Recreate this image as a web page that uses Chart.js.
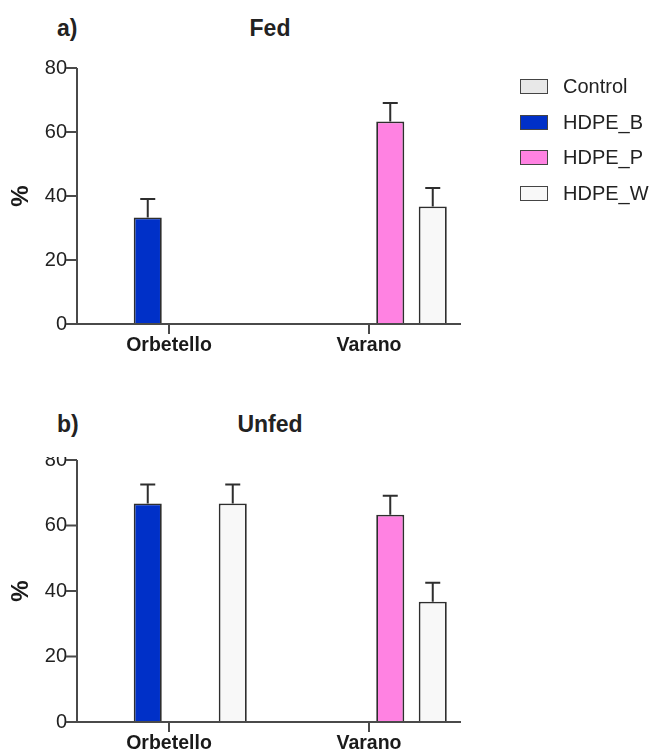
<!DOCTYPE html>
<html>
<head>
<meta charset="utf-8">
<script src="https://cdn.jsdelivr.net/npm/chart.js@4.4.1/dist/chart.umd.min.js"></script>
<style>
  body { margin: 0; background: #fff; }
  #page { position: relative; width: 656px; height: 753px; overflow: hidden; font-family: 'Liberation Sans', Arial, sans-serif; color: #222; }
  .panel-letter, .panel-title { position: absolute; font-weight: bold; font-size: 23px; line-height: 23px; }
  .panel-title { left: 0; width: 540px; text-align: center; }
  #fed-wrap { position: absolute; left: 0; top: 0; }
  #unfed-wrap { position: absolute; left: 0; top: 457px; width: 540px; height: 296px; overflow: hidden; }
  #unfed-wrap canvas { position: absolute; left: 0; top: -59px; }
  #legend { position: absolute; left: 520px; top: 69px; }
  .legend-item { display: flex; align-items: center; height: 35.5px; font-size: 20px; }
  .legend-box { box-sizing: border-box; width: 28px; height: 15px; border: 1.5px solid #444; margin-right: 15px; }
</style>
</head>
<body>
<div id="page">
  <div class="panel-letter" style="left:57px; top:17px">a)</div>
  <div class="panel-title" style="top:17px">Fed</div>
  <div id="fed-wrap"><canvas id="fed-chart" width="540" height="370"></canvas></div>

  <div class="panel-letter" style="left:57px; top:413px">b)</div>
  <div class="panel-title" style="top:413px">Unfed</div>
  <div id="unfed-wrap"><canvas id="unfed-chart" width="540" height="355"></canvas></div>

  <div id="legend"></div>
</div>
<script>
const sites = ['Orbetello', 'Varano'];
const series = ['Control', 'HDPE_B', 'HDPE_P', 'HDPE_W'];
const seriesColors = ['#e8e8e8', '#0030c8', '#ff82e2', '#f8f8f8'];
const yTicks = [0, 20, 40, 60, 80];

// Fed (panel a)
const fedMeans = {
  Control: [null, null],
  HDPE_B: [33.3, null],
  HDPE_P: [null, 63.3],
  HDPE_W: [null, 36.7]
};
const fedErrors = {
  Control: [null, null],
  HDPE_B: [5.8, null],
  HDPE_P: [null, 5.8],
  HDPE_W: [null, 5.8]
};

// Unfed (panel b)
const unfedMeans = {
  Control: [null, null],
  HDPE_B: [66.7, null],
  HDPE_P: [null, 63.3],
  HDPE_W: [66.7, 36.7]
};
const unfedErrors = {
  Control: [null, null],
  HDPE_B: [5.8, null],
  HDPE_P: [null, 5.8],
  HDPE_W: [5.8, 5.8]
};

const FONT = "'Liberation Sans', Arial, sans-serif";
const AXIS_COLOR = '#4a4a4a';
const BAR_EDGE = '#2e2e2e';

Chart.defaults.font.family = FONT;
Chart.defaults.color = '#222';

// ─── axes offset from the plot area + error bars ───
const prismAxes = {
  id: 'prismAxes',
  afterDatasetsDraw(chart, args, opts) {
    const { ctx, chartArea, scales: { x, y } } = chart;
    ctx.save();

    // error bars (upper only)
    ctx.strokeStyle = BAR_EDGE;
    ctx.lineWidth = 2;
    chart.data.datasets.forEach((ds, i) => {
      const meta = chart.getDatasetMeta(i);
      meta.data.forEach((bar, j) => {
        const v = ds.data[j], e = ds.errors[j];
        if (v == null || !e) return;
        const top = y.getPixelForValue(v + e);
        const base = y.getPixelForValue(v);
        ctx.beginPath();
        ctx.moveTo(bar.x, base);
        ctx.lineTo(bar.x, top);
        ctx.moveTo(bar.x - 7.5, top);
        ctx.lineTo(bar.x + 7.5, top);
        ctx.stroke();
      });
    });

    // axis lines and tick marks
    const x0 = chartArea.left + opts.inset;
    const x1 = chartArea.right - opts.inset;
    const y0 = y.getPixelForValue(0);
    const yTop = y.getPixelForValue(yTicks[yTicks.length - 1]);
    ctx.strokeStyle = AXIS_COLOR;
    ctx.lineWidth = 2;
    ctx.beginPath();
    ctx.moveTo(x0, yTop);
    ctx.lineTo(x0, y0);
    ctx.lineTo(x1, y0);
    yTicks.forEach(t => {
      const py = y.getPixelForValue(t);
      ctx.moveTo(x0 - 11, py);
      ctx.lineTo(x0, py);
    });
    x.ticks.forEach((t, i) => {
      const px = x.getPixelForTick(i);
      ctx.moveTo(px, y0);
      ctx.lineTo(px, y0 + 10);
    });
    ctx.stroke();
    ctx.restore();
  }
};

function makeChart(canvasId, means, errors, pad) {
  const datasets = series.map((name, k) => ({
    label: name,
    data: means[name],
    errors: errors[name],
    backgroundColor: seriesColors[k],
    borderColor: BAR_EDGE,
    borderWidth: 1.8,
    categoryPercentage: 0.85,
    barPercentage: 0.66
  }));

  return new Chart(document.getElementById(canvasId), {
    type: 'bar',
    data: { labels: sites, datasets },
    plugins: [prismAxes],
    options: {
      responsive: false,
      animation: false,
      layout: { padding: { top: pad.top, right: 71, left: 0, bottom: 0 } },
      scales: {
        x: {
          grid: { display: false, drawTicks: false },
          border: { display: false },
          ticks: { padding: 10, font: { size: 19.5, weight: 'bold' }, color: '#1a1a1a' },
          afterFit: s => { s.height = pad.xHeight; }
        },
        y: {
          min: 0,
          max: 80,
          grid: { display: false, drawTicks: false },
          border: { display: false },
          afterBuildTicks: s => { s.ticks = yTicks.map(v => ({ value: v })); },
          ticks: { padding: 2, font: { size: 20 }, color: '#222' },
          title: {
            display: true,
            text: '%',
            font: { size: 24, weight: 'bold' },
            color: '#1a1a1a',
            padding: { top: 7, bottom: 0 }
          },
          afterFit: s => { s.width = 69; }
        }
      },
      plugins: {
        legend: { display: false },
        tooltip: { enabled: false },
        prismAxes: { inset: 8 }
      }
    }
  });
}

makeChart('fed-chart', fedMeans, fedErrors, { top: 68, xHeight: 46 });
makeChart('unfed-chart', unfedMeans, unfedErrors, { top: 62, xHeight: 31 });

// legend (shown once, beside panel a)
document.getElementById('legend').innerHTML = series.map((name, k) => `
  <div class="legend-item">
    <span class="legend-box" style="background:${seriesColors[k]}"></span>${name}
  </div>`).join('');
</script>
</body>
</html>
